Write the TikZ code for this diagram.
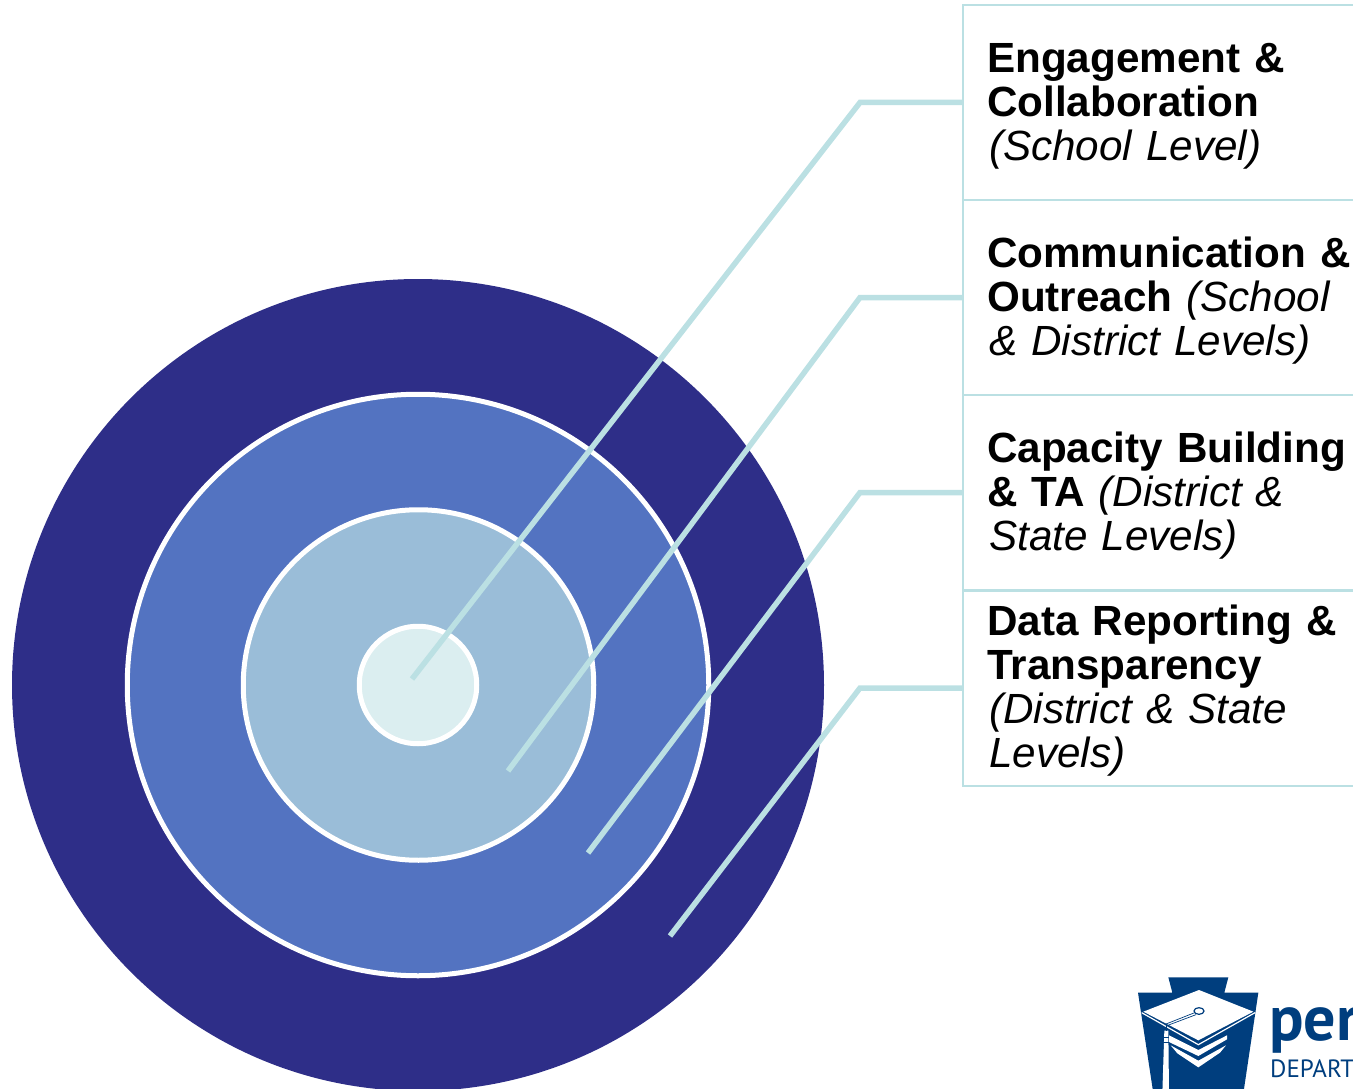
\documentclass[tikz,border=0pt]{standalone}
\usepackage{fontspec}
\setmainfont{Liberation Sans}
\newfontfamily\logofont{PT Sans}
\definecolor{ringA}{HTML}{2E2E88}
\definecolor{ringB}{HTML}{5373C1}
\definecolor{ringC}{HTML}{9ABDD8}
\definecolor{ringD}{HTML}{DBEEF0}
\definecolor{teal}{HTML}{BBE0E3}
\definecolor{logoblue}{HTML}{003E7E}
\tikzset{
  ring/.style={circle,inner sep=0pt,draw=white,line width=5pt,minimum size=#1},
  linkbox/.style={rectangle,draw=teal,line width=2pt,minimum width=460pt,minimum height=195pt,anchor=west,inner sep=0pt},
  link/.style={draw=teal,line width=5.5pt,line join=miter},
  label/.style={anchor=north west,inner sep=0pt,text width=380pt,align=left,font=\fontsize{42.2}{44}\selectfont},
  capwhite/.style={fill=white,draw=none}
}
\newcommand{\itstart}{\hspace*{2pt}}
\begin{document}
\begin{tikzpicture}[x=1pt,y=-1pt]
\useasboundingbox (0,0) rectangle (1353,1089);
\clip (0,0) rectangle (1353,1089);
\node[circle,inner sep=0pt,fill=ringA,minimum size=812pt] (c1) at (418,685) {};
\node[ring=581.5pt,fill=ringB] (c2) at (418,685) {};
\node[ring=350.5pt,fill=ringC] (c3) at (418.5,685) {};
\node[ring=117.5pt,fill=ringD] (c4) at (418,685) {};

\node[linkbox] (b1) at (962,102.5) {};
\node[linkbox] (b2) at (962,297.5) {};
\node[linkbox] (b3) at (962,492.5) {};
\node[linkbox] (b4) at (962,688) {};

\coordinate (e1) at (860,102.5);
\coordinate (e2) at (860,297.5);
\coordinate (e3) at (860,492.5);
\coordinate (e4) at (860,688);
\coordinate (t1) at (412,679);
\coordinate (t2) at (508,771);
\coordinate (t3) at (588,853);
\coordinate (t4) at (670,936);
\draw[link] (b1.west) -- (e1) -- (t1);
\draw[link] (b2.west) -- (e2) -- (t2);
\draw[link] (b3.west) -- (e3) -- (t3);
\draw[link] (b4.west) -- (e4) -- (t4);

\node[label] (l1) at (987,41.3) {\strut\textbf{Engagement \&}\\\strut\textbf{Collaboration}\\\strut\itstart\textit{(School Level)}};
\node[label] (l2) at (987,236.3) {\strut\textbf{Communication \&}\\\strut\textbf{Outreach} \textit{(School}\\\strut\itstart\textit{\& District Levels)}};
\node[label] (l3) at (987,431.3) {\strut\textbf{Capacity Building}\\\strut\textbf{\& TA} \textit{(District \&}\\\strut\itstart\textit{State Levels)}};
\node[label] (l4) at (987,604.3) {\strut\textbf{Data Reporting \&}\\\strut\textbf{Transparency}\\\strut\itstart\textit{(District \& State}\\\strut\itstart\textit{Levels)}};

\begin{scope}[shift={(1100,960)},x=0.33333pt,y=-0.33333pt]
  \fill[logoblue] (205,52) -- (385,52) -- (373,98) -- (475,98) -- (430,400) -- (160,400) -- (114,98) -- (217,98) -- cycle;
  \fill[capwhite] (297,90) -- (460,155) -- (295,241) -- (130,155) -- cycle;
  \draw[white,line width=1.2pt] (125,158) -- (295,254) -- (465,158);
  \fill[capwhite] (207,226) -- (295,270) -- (381,226) -- (381,238) -- (295,288) -- (207,246) -- cycle;
  \fill[capwhite] (212,256) -- (295,302) -- (378,256) -- (360,278) -- (295,322) -- (232,280) -- cycle;
  \fill[white] (193,212) -- (205,212) -- (207,400) -- (187,400) -- cycle;
  \draw[logoblue,line width=0.7pt] (198,192) -- (284,158);
  \draw[logoblue,line width=0.7pt] (198,198) -- (288,164);
  \draw[logoblue,line width=0.9pt] (198,195) -- (198,212);
  \draw[logoblue,line width=1.2pt,fill=white] (297,153) ellipse (15 and 10);
  \draw[logoblue,line width=0.8pt] (187,232) -- (207,232);
  \draw[logoblue,line width=0.8pt] (187,247) -- (207,247);
\end{scope}
\node[anchor=base west,inner sep=0pt,text=logoblue,font=\logofont\bfseries\fontsize{64}{64}\selectfont] (p1) at (1269,1040) {per};
\node[anchor=base west,inner sep=0pt,text=logoblue,font=\logofont\fontsize{25}{25}\selectfont] (p2) at (1270,1077) {DEPART};
\end{tikzpicture}
\end{document}
